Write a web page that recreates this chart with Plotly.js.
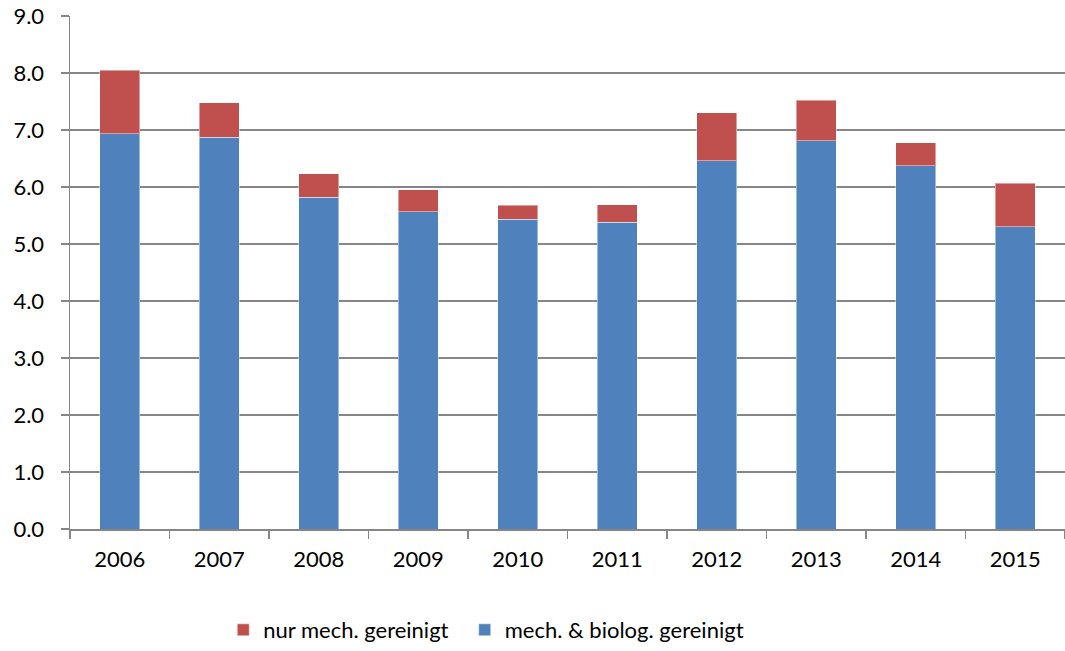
<!DOCTYPE html>
<html>
<head>
<meta charset="utf-8">
<script src="https://cdn.plot.ly/plotly-3.0.1.min.js"></script>
<style>html,body{margin:0;padding:0;background:#fff;}#chart{width:1065px;height:651px;}</style>
</head>
<body>
<div id="chart"></div>
<script>
const years = ['2006','2007','2008','2009','2010','2011','2012','2013','2014','2015'];
const mechBiolog = [6.93, 6.87, 5.82, 5.57, 5.43, 5.38, 6.46, 6.81, 6.37, 5.30];
const nurMech = [1.12, 0.61, 0.41, 0.38, 0.25, 0.31, 0.84, 0.71, 0.41, 0.77];
const seriesNames = ['mech. & biolog. gereinigt', 'nur mech. gereinigt'];
const yTicks = [0,1,2,3,4,5,6,7,8,9];

const fontFam = 'Lato, "Open Sans", sans-serif';
const traces = [
  {type:'bar', x: years, y: mechBiolog, name: seriesNames[0],
   marker:{color:'#4F81BD', line:{color:'rgba(255,255,255,0.45)', width:1}}},
  {type:'bar', x: years, y: nurMech, name: seriesNames[1] + '\u00a0\u00a0',
   marker:{color:'#C0504D', line:{color:'rgba(255,255,255,0.45)', width:1}}}
];
const layout = {
  width:1065, height:651,
  margin:{l:70, r:0, t:16, b:120},
  paper_bgcolor:'#fff', plot_bgcolor:'#fff',
  barmode:'stack', bargap:0.6,
  font:{family:fontFam, size:22, color:'#000'},
  showlegend:true,
  legend:{orientation:'h', x:0.154, xanchor:'left', y:-0.197, yanchor:'middle',
          traceorder:'reversed', font:{family:fontFam, size:22, color:'#000'}, itemwidth:30},
  xaxis:{type:'category', showline:true, linecolor:'#868686', linewidth:1.5,
         ticks:'outside', tickson:'boundaries', ticklen:8, tickcolor:'#868686', tickwidth:1.5,
         showgrid:false, ticklabelstandoff:10, tickfont:{family:fontFam, size:22}},
  yaxis:{range:[0,9], tickvals:yTicks, tickformat:'.1f', showline:true, linecolor:'#868686', linewidth:1.5,
         ticks:'outside', ticklen:8, tickcolor:'#868686', tickwidth:1.5,
         showgrid:true, gridcolor:'#868686', gridwidth:1.5, zeroline:false,
         ticklabelstandoff:12, tickfont:{family:fontFam, size:22}}
};
Plotly.newPlot('chart', traces, layout, {displayModeBar:false, staticPlot:true});
</script>
</body>
</html>
